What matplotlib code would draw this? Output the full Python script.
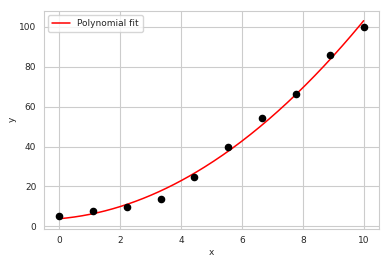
import numpy as np
import matplotlib
matplotlib.use('Agg')
import matplotlib.pyplot as plt
import seaborn as sns

# data points
x_data = [0.0, 1.11, 2.22, 3.33, 4.44, 5.56, 6.67, 7.78, 8.89, 10.0]
y_data = [5.3, 7.5, 9.6, 13.6, 24.8, 39.8, 54.3, 66.4, 85.7, 100.1]
fit_label = 'Polynomial fit'

sns.set_style('whitegrid')
plt.rcParams['font.family'] = ['DejaVu Sans']

fig = plt.figure(figsize=(3.89, 2.64), dpi=100)
ax = fig.add_axes([0.113, 0.134, 0.861, 0.825])

coefs = np.polyfit(x_data, y_data, 2)  # quadratic fit like the original
x_fit = np.linspace(min(x_data), max(x_data), 200)
y_fit = np.polyval(coefs, x_fit)

ax.scatter(x_data, y_data, color='black', s=20, zorder=3)
ax.plot(x_fit, y_fit, color='red', lw=1.1, label=fit_label)

ax.set_xlabel('x', fontsize=6.5, labelpad=2)
ax.set_ylabel('y', fontsize=6.5, labelpad=2)
ax.tick_params(labelsize=6.5, pad=2)
ax.set_xticks([0, 2, 4, 6, 8, 10])
ax.set_yticks([0, 20, 40, 60, 80, 100])
ax.legend(loc='upper left', fontsize=6.5, frameon=True)

fig.savefig('out.png', dpi=100)
